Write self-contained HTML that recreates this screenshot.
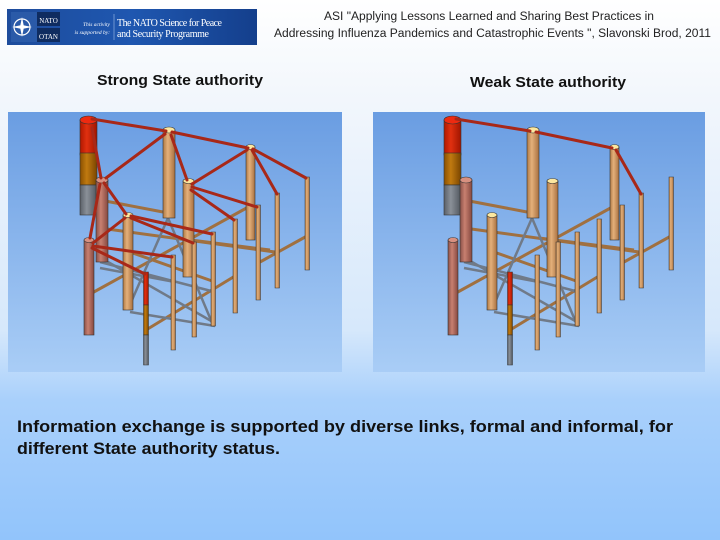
<!DOCTYPE html>
<html><head><meta charset="utf-8"><style>
html,body{margin:0;padding:0;}
body{width:720px;height:540px;overflow:hidden;background:linear-gradient(#ffffff 0px,#f3f7fc 90px,#d6e8fb 330px,#a9d0fb 400px,#92c4fb 540px);}
svg{position:absolute;left:0;top:0;}
</style></head><body>
<svg width="720" height="540" viewBox="0 0 720 540" xmlns="http://www.w3.org/2000/svg">
<defs>
<linearGradient id="pan" x1="0" y1="0" x2="0" y2="1"><stop offset="0" stop-color="#6a9de2"/><stop offset="1" stop-color="#a9cdf6"/></linearGradient>
<linearGradient id="logo" x1="0" y1="0" x2="1" y2="0"><stop offset="0" stop-color="#1d4c9c"/><stop offset="0.5" stop-color="#1f57b0"/><stop offset="1" stop-color="#143f8c"/></linearGradient>
<linearGradient id="tan" x1="0" x2="1"><stop offset="0" stop-color="#b07a45"/><stop offset="0.4" stop-color="#e4b07a"/><stop offset="1" stop-color="#a87040"/></linearGradient>
<linearGradient id="pink" x1="0" x2="1"><stop offset="0" stop-color="#8a5048"/><stop offset="0.4" stop-color="#c88070"/><stop offset="1" stop-color="#85483f"/></linearGradient>
<linearGradient id="red" x1="0" x2="1"><stop offset="0" stop-color="#b01800"/><stop offset="0.4" stop-color="#e03010"/><stop offset="1" stop-color="#a01500"/></linearGradient>
<linearGradient id="org" x1="0" x2="1"><stop offset="0" stop-color="#8a5000"/><stop offset="0.4" stop-color="#c07a10"/><stop offset="1" stop-color="#7a4500"/></linearGradient>
<linearGradient id="gry" x1="0" x2="1"><stop offset="0" stop-color="#5a6068"/><stop offset="0.4" stop-color="#8a9098"/><stop offset="1" stop-color="#50565e"/></linearGradient>
<g id="frame">
 <g stroke="#a07040" stroke-width="3" fill="none">
  <line x1="100" y1="200" x2="163" y2="212"/>
  <line x1="100" y1="228" x2="275" y2="252"/>
  <line x1="92" y1="293" x2="252" y2="205"/>
  <line x1="260" y1="262" x2="307" y2="236"/>
  <line x1="130" y1="252" x2="215" y2="282"/>
  <line x1="146" y1="330" x2="235" y2="276"/>
  <line x1="175" y1="238" x2="270" y2="250"/>
 </g>
 <g stroke="#707a88" stroke-width="2.5" fill="none">
  <line x1="100" y1="262" x2="215" y2="292"/>
  <line x1="130" y1="312" x2="215" y2="326"/>
  <line x1="168" y1="218" x2="132" y2="300"/>
  <line x1="168" y1="218" x2="213" y2="325"/>
  <line x1="108" y1="262" x2="213" y2="322"/>
  <line x1="100" y1="268" x2="175" y2="282"/>
 </g>
 <!-- columns -->
 <rect x="80" y="120" width="17" height="35" fill="url(#red)" stroke="#333" stroke-width=".6"/>
 <rect x="80" y="153" width="17" height="32" fill="url(#org)" stroke="#333" stroke-width=".6"/>
 <rect x="80" y="185" width="17" height="30" fill="url(#gry)" stroke="#333" stroke-width=".6"/>
 <ellipse cx="88.5" cy="120" rx="8.5" ry="4" fill="#ee2a10" stroke="#333" stroke-width=".6"/>
 <rect x="96" y="180" width="12" height="82" fill="url(#pink)" stroke="#333" stroke-width=".6"/>
 <ellipse cx="102" cy="180" rx="6" ry="3" fill="#d89080" stroke="#333" stroke-width=".6"/>
 <rect x="84" y="240" width="10" height="95" fill="url(#pink)" stroke="#333" stroke-width=".6"/>
 <ellipse cx="89" cy="240" rx="5" ry="2.5" fill="#d89080" stroke="#333" stroke-width=".6"/>
 <rect x="163" y="130" width="12" height="88" fill="url(#tan)" stroke="#333" stroke-width=".6"/>
 <ellipse cx="169" cy="130" rx="6" ry="3" fill="#fbe7a0" stroke="#333" stroke-width=".6"/>
 <rect x="246" y="147" width="9" height="93" fill="url(#tan)" stroke="#333" stroke-width=".6"/>
 <ellipse cx="250.5" cy="147" rx="4.5" ry="2.5" fill="#fbe7a0" stroke="#333" stroke-width=".6"/>
 <rect x="183" y="181" width="11" height="96" fill="url(#tan)" stroke="#333" stroke-width=".6"/>
 <ellipse cx="188.5" cy="181" rx="5.5" ry="2.5" fill="#fbe7a0" stroke="#333" stroke-width=".6"/>
 <g stroke="#333" stroke-width=".5">
  <rect x="305" y="177" width="4.5" height="93" fill="url(#tan)"/>
  <rect x="275" y="193" width="4.5" height="95" fill="url(#tan)"/>
  <rect x="256" y="205" width="4.5" height="95" fill="url(#tan)"/>
  <rect x="233" y="219" width="4.5" height="94" fill="url(#tan)"/>
 </g>
 <rect x="123" y="215" width="10" height="95" fill="url(#tan)" stroke="#333" stroke-width=".6"/>
 <ellipse cx="128" cy="215" rx="5" ry="2.5" fill="#fbe7a0" stroke="#333" stroke-width=".6"/>
 <g stroke="#333" stroke-width=".5">
  <rect x="211" y="232" width="4.5" height="94" fill="url(#tan)"/>
  <rect x="192" y="242" width="4.5" height="95" fill="url(#tan)"/>
  <rect x="171" y="255" width="4.5" height="95" fill="url(#tan)"/>
  <rect x="143.5" y="272" width="5" height="33" fill="url(#red)"/>
  <rect x="143.5" y="305" width="5" height="30" fill="url(#org)"/>
  <rect x="143.5" y="335" width="5" height="30" fill="url(#gry)"/>
 </g>
</g>
</defs>

<!-- header -->
<rect x="7" y="9" width="250" height="36" fill="url(#logo)"/>
<rect x="11" y="12" width="26" height="30" fill="#2a5aa8"/>
<circle cx="22" cy="27" r="8" fill="none" stroke="#fff" stroke-width="1.2"/>
<path d="M22 17 L24 27 L22 37 L20 27Z M12 27 L22 25 L32 27 L22 29Z" fill="#fff"/>
<rect x="37" y="12" width="23" height="14" fill="#0f2c60"/><rect x="37" y="28" width="23" height="14" fill="#0f2c60"/>
<text x="48.5" y="23" font-family="Liberation Serif,serif" font-size="7" fill="#fff" text-anchor="middle">NATO</text>
<text x="48.5" y="39" font-family="Liberation Serif,serif" font-size="7" fill="#fff" text-anchor="middle">OTAN</text>
<text x="110" y="26" font-family="Liberation Serif,serif" font-size="5.5" font-style="italic" fill="#fff" text-anchor="end">This activity</text>
<text x="110" y="34" font-family="Liberation Serif,serif" font-size="5.5" font-style="italic" fill="#fff" text-anchor="end">is supported by:</text>
<line x1="114" y1="14" x2="114" y2="40" stroke="#8fb0e0" stroke-width=".7"/>
<text x="117" y="26" font-family="Liberation Serif,serif" font-size="10" fill="#fff" textLength="105">The NATO Science for Peace</text>
<text x="117" y="37" font-family="Liberation Serif,serif" font-size="10" fill="#fff" textLength="92">and Security Programme</text>
<text x="324" y="20" font-family="Liberation Sans,sans-serif" font-size="11.5" fill="#222" textLength="330" lengthAdjust="spacingAndGlyphs">ASI "Applying Lessons Learned and Sharing Best Practices in</text>
<text x="274" y="37" font-family="Liberation Sans,sans-serif" font-size="11.5" fill="#222" textLength="437" lengthAdjust="spacingAndGlyphs">Addressing Influenza Pandemics and Catastrophic Events ",  Slavonski Brod, 2011</text>

<text x="97" y="85" font-family="Liberation Sans,sans-serif" font-size="15" font-weight="bold" fill="#111" textLength="166" lengthAdjust="spacingAndGlyphs">Strong State authority</text>
<text x="470" y="87" font-family="Liberation Sans,sans-serif" font-size="15" font-weight="bold" fill="#111" textLength="156" lengthAdjust="spacingAndGlyphs">Weak State authority</text>

<!-- panels -->
<rect x="8" y="112" width="334" height="260" fill="url(#pan)"/>
<rect x="373" y="112" width="332" height="260" fill="url(#pan)"/>

<use href="#frame"/>
<g stroke="#a82818" stroke-width="3" stroke-linecap="round" fill="none">
 <line x1="92" y1="119" x2="166" y2="131"/>
 <line x1="172" y1="132" x2="248" y2="148"/>
 <line x1="92" y1="128" x2="101" y2="178"/>
 <line x1="165" y1="134" x2="106" y2="178"/>
 <line x1="171" y1="135" x2="187" y2="180"/>
 <line x1="192" y1="184" x2="247" y2="150"/>
 <line x1="252" y1="150" x2="277" y2="194"/>
 <line x1="253" y1="149" x2="306" y2="178"/>
 <line x1="104" y1="183" x2="126" y2="214"/>
 <line x1="192" y1="187" x2="257" y2="207"/>
 <line x1="191" y1="190" x2="234" y2="220"/>
 <line x1="100" y1="184" x2="90" y2="238"/>
 <line x1="131" y1="218" x2="193" y2="243"/>
 <line x1="131" y1="216" x2="212" y2="234"/>
 <line x1="93" y1="243" x2="125" y2="218"/>
 <line x1="93" y1="246" x2="172" y2="257"/>
 <line x1="92" y1="248" x2="145" y2="274"/>
</g>

<g transform="translate(364,0)">
 <use href="#frame"/>
 <g stroke="#a82818" stroke-width="3" stroke-linecap="round" fill="none">
  <line x1="92" y1="119" x2="166" y2="131"/>
  <line x1="172" y1="132" x2="248" y2="148"/>
  <line x1="252" y1="150" x2="277" y2="194"/>
 </g>
</g>

<text x="17" y="432" font-family="Liberation Sans,sans-serif" font-size="17" font-weight="bold" fill="#111" textLength="656" lengthAdjust="spacingAndGlyphs">Information exchange is supported  by diverse links, formal and informal, for</text>
<text x="17" y="454" font-family="Liberation Sans,sans-serif" font-size="17" font-weight="bold" fill="#111" textLength="263" lengthAdjust="spacingAndGlyphs">different State authority status.</text>
</svg>
</body></html>
